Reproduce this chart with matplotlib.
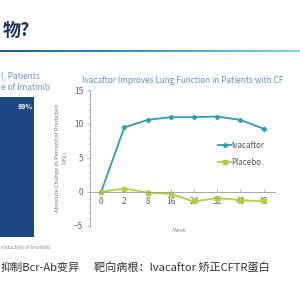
import matplotlib.pyplot as plt
import numpy as np
from matplotlib.colors import LinearSegmentedColormap

plt.rcParams['font.family'] = ['Noto Sans CJK SC', 'DejaVu Sans']

weeks = ['0', '2', '8', '16', '24', '32', '40', '48']
ivacaftor = [0, 9.5, 10.6, 11.0, 11.0, 11.1, 10.6, 9.3]
placebo = [0, 0.5, -0.1, -0.3, -1.4, -0.9, -1.2, -1.4]
bar_label = '89%'

fig = plt.figure(figsize=(3, 3), dpi=100)
fig.patch.set_facecolor('white')

# slide header
fig.text(0.10, 0.90, '物?', ha='right', va='center', fontsize=13,
         fontweight='bold', color='#1d3557')
bar_ax = fig.add_axes([0, 0.828, 1, 0.007])
grad = LinearSegmentedColormap.from_list('g', ['#1f5c9e', '#3a9cc4', '#7fd8e3'])
bar_ax.imshow(np.linspace(0, 1, 256)[None, :], aspect='auto', cmap=grad)
bar_ax.axis('off')

# left panel (cut off)
fig.text(0.003, 0.748, 'l, Patients', ha='left', va='center', fontsize=6,
         style='italic', color='#6d95c8')
fig.text(0.003, 0.708, 'e of Imatinib', ha='left', va='center', fontsize=6,
         style='italic', color='#6d95c8')
fig.patches.append(plt.Rectangle((0, 0.21), 0.113, 0.467, transform=fig.transFigure,
                                 facecolor='#1b4883', edgecolor='none'))
fig.text(0.083, 0.645, bar_label, ha='center', va='center', fontsize=5,
         fontweight='bold', color='white')
fig.text(0.003, 0.176, 'roduction of Imatinib', ha='left', va='center',
         fontsize=3.5, color='#888888')

# line chart
ax = fig.add_axes([0.30, 0.247, 0.617, 0.453])
x = np.arange(len(weeks))
ax.plot(x, ivacaftor, color='#2f9db3', lw=1.3, marker='D', ms=2.2, label='Ivacaftor')
ax.plot(x, placebo, color='#b6cc3c', lw=1.3, marker='s', ms=2.8, label='Placebo')
ax.set_ylim(-5, 15)
ax.set_xlim(-0.48, 7.5)
ax.set_yticks([-5, 0, 5, 10, 15])
ax.set_yticks(np.arange(-5, 16, 1), minor=True)
ax.set_xticks(x)
ax.set_xticklabels(weeks)
ax.spines['top'].set_visible(False)
ax.spines['right'].set_visible(False)
ax.spines['bottom'].set_position(('data', 0))
for s in ('left', 'bottom'):
    ax.spines[s].set_color('#9a9a9a')
    ax.spines[s].set_linewidth(0.6)
ax.tick_params(axis='both', labelsize=6, colors='#9a9a9a', labelcolor='#666666',
               length=2, width=0.5, pad=3)
ax.tick_params(axis='y', which='minor', length=1.2, width=0.4, colors='#9a9a9a')
ax.tick_params(axis='x', direction='in', pad=4)
ax.set_ylabel('Absolute Change in Percent of Predicted\nFEV$_1$', fontsize=4.2,
              color='#777777', labelpad=3)
ax.set_title('Ivacaftor Improves Lung Function in Patients with CF', fontsize=5.9,
             style='italic', color='#6d8fb0', pad=5)
ax.set_facecolor('none')
ax.legend(loc='upper left', bbox_to_anchor=(0.655, 0.68), frameon=False, fontsize=5.8,
          handlelength=1.5, handletextpad=0.1, labelspacing=1.0, labelcolor='#555555')
fig.text(0.60, 0.23, 'Week', ha='center', va='center', fontsize=4, color='#888888')

# bottom captions
fig.text(0.0, 0.107, '抑制Bcr-Ab变异', ha='left', va='center', fontsize=8, color='#333333')
fig.text(0.315, 0.107, '靶向病根：Ivacaftor 矫正CFTR蛋白', ha='left', va='center',
         fontsize=8, color='#333333')

fig.savefig('out.png', dpi=100, facecolor='white')
